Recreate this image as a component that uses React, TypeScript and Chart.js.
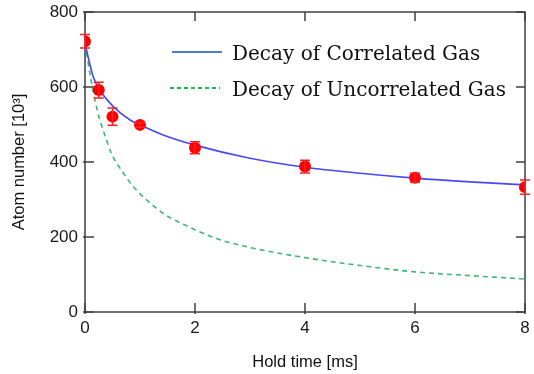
import React, { useEffect, useRef } from "react";
import { Chart, registerables } from "chart.js";

Chart.register(...registerables);

// Measured data
const holdTime = [0, 0.25, 0.5, 1, 2, 4, 6, 8];
const atomNumber = [722, 592, 521, 499, 438, 388, 358, 333];
const atomError = [18, 21, 23, 6, 16, 17, 12, 19];

// Correlated decay curve
const correlatedTime = [0, 0.15, 0.27, 0.52, 0.82, 1, 1.42, 2, 3, 4, 5, 6, 7, 8];
const correlatedAtoms = [716, 627, 592, 547, 512, 499, 472, 445, 410, 386, 370, 357, 347, 339];

// Uncorrelated decay curve
const uncorrelatedTime = [0, 0.12, 0.18, 0.27, 0.36, 0.48, 0.7, 0.88, 1.12, 1.42, 1.79, 2.39, 3, 4, 5, 6, 7, 8];
const uncorrelatedAtoms = [716, 610, 566, 512, 472, 423, 370, 334, 299, 263, 234, 196, 172, 145, 124, 107, 97, 88];

const xTicks = [0, 2, 4, 6, 8];
const yTicks = [0, 200, 400, 600, 800];

const legendLabels = ["Decay of Correlated Gas", "Decay of Uncorrelated Gas"];

const framePlugin = {
  id: "frame",
  beforeDatasetsDraw(chart: any) {
    const { ctx, chartArea } = chart;
    const { left, right, top, bottom } = chartArea;
    const xs = chart.scales.x;
    const ys = chart.scales.y;
    ctx.save();
    ctx.strokeStyle = "#404040";
    ctx.lineWidth = 1.5;
    ctx.strokeRect(left, top, right - left, bottom - top);
    const tl = 9;
    ctx.beginPath();
    xTicks.forEach((v) => {
      const px = xs.getPixelForValue(v);
      ctx.moveTo(px, bottom + 2);
      ctx.lineTo(px, bottom - tl);
      ctx.moveTo(px, top);
      ctx.lineTo(px, top + tl);
    });
    yTicks.forEach((v) => {
      const py = ys.getPixelForValue(v);
      ctx.moveTo(left - 2, py);
      ctx.lineTo(left + tl, py);
      ctx.moveTo(right, py);
      ctx.lineTo(right - tl, py);
    });
    ctx.stroke();
    ctx.restore();
  },
};

const errorBarPlugin = {
  id: "errorBars",
  afterDatasetsDraw(chart: any) {
    const { ctx } = chart;
    const xs = chart.scales.x;
    const ys = chart.scales.y;
    ctx.save();
    ctx.strokeStyle = "#ff2020";
    ctx.lineWidth = 1.5;
    holdTime.forEach((t, i) => {
      const px = xs.getPixelForValue(t);
      const pTop = ys.getPixelForValue(atomNumber[i] + atomError[i]);
      const pBot = ys.getPixelForValue(atomNumber[i] - atomError[i]);
      ctx.beginPath();
      ctx.moveTo(px, pTop);
      ctx.lineTo(px, pBot);
      ctx.moveTo(px - 5, pTop);
      ctx.lineTo(px + 5, pTop);
      ctx.moveTo(px - 5, pBot);
      ctx.lineTo(px + 5, pBot);
      ctx.stroke();
    });
    ctx.restore();
  },
};

const legendPlugin = {
  id: "customLegend",
  afterDraw(chart: any) {
    const { ctx } = chart;
    ctx.save();
    ctx.font = '20px "DejaVu Serif"';
    ctx.fillStyle = "#111111";
    ctx.textBaseline = "alphabetic";
    ctx.textAlign = "left";
    // row 1
    ctx.strokeStyle = "#4a7ecf";
    ctx.lineWidth = 1.8;
    ctx.setLineDash([]);
    ctx.beginPath();
    ctx.moveTo(172, 52);
    ctx.lineTo(222, 52);
    ctx.stroke();
    ctx.fillText(legendLabels[0], 232, 60);
    // row 2
    ctx.strokeStyle = "#1fbf4f";
    ctx.setLineDash([4, 3]);
    ctx.beginPath();
    ctx.moveTo(170, 88);
    ctx.lineTo(220, 88);
    ctx.stroke();
    ctx.setLineDash([]);
    ctx.fillText(legendLabels[1], 232, 96);
    ctx.restore();
  },
};

export default function App() {
  const canvasRef = useRef<HTMLCanvasElement | null>(null);

  useEffect(() => {
    document.body.style.margin = "0";
    const canvas = canvasRef.current;
    if (!canvas) return;
    const tickFont = { family: '"Liberation Sans", Arial, sans-serif', size: 17 };
    const titleFont = { family: '"Liberation Sans", Arial, sans-serif', size: 16.5 };
    const chart = new Chart(canvas, {
      type: "line",
      data: {
        datasets: [
          {
            label: "Measured",
            data: holdTime.map((t, i) => ({ x: t, y: atomNumber[i] })),
            showLine: false,
            pointRadius: 6,
            pointBackgroundColor: "#ff0000",
            pointBorderColor: "#ff0000",
            pointBorderWidth: 0,
            order: 0,
          },
          {
            label: legendLabels[0],
            data: correlatedTime.map((t, i) => ({ x: t, y: correlatedAtoms[i] })),
            borderColor: "#4848f8",
            borderWidth: 1.6,
            pointRadius: 0,
            cubicInterpolationMode: "monotone",
            fill: false,
            order: 1,
          },
          {
            label: legendLabels[1],
            data: uncorrelatedTime.map((t, i) => ({ x: t, y: uncorrelatedAtoms[i] })),
            borderColor: "#3cb878",
            borderWidth: 1.6,
            borderDash: [5, 4],
            pointRadius: 0,
            cubicInterpolationMode: "monotone",
            fill: false,
            order: 2,
          },
        ],
      },
      options: {
        animation: false,
        responsive: false,
        devicePixelRatio: 1,
        layout: { padding: { top: 12, right: 9, left: 0, bottom: 0 } },
        plugins: {
          legend: { display: false },
          tooltip: { enabled: false },
        },
        scales: {
          x: {
            type: "linear",
            min: 0,
            max: 8,
            afterFit: (scale: any) => {
              scale.height = 62;
              scale.paddingLeft = 0;
              scale.paddingRight = 0;
            },
            afterBuildTicks: (scale: any) => {
              scale.ticks = xTicks.map((v) => ({ value: v }));
            },
            grid: { display: false, drawTicks: false },
            border: { display: false },
            ticks: {
              padding: 6,
              color: "#1a1a1a",
              font: tickFont,
              maxRotation: 0,
            },
            title: {
              display: true,
              text: "Hold time [ms]",
              color: "#111111",
              font: titleFont,
              padding: { top: 0, bottom: 2 },
            },
          },
          y: {
            type: "linear",
            min: 0,
            max: 800,
            afterFit: (scale: any) => {
              scale.width = 85;
              scale.paddingTop = 0;
              scale.paddingBottom = 0;
            },
            afterBuildTicks: (scale: any) => {
              scale.ticks = yTicks.map((v) => ({ value: v }));
            },
            grid: { display: false, drawTicks: false },
            border: { display: false },
            ticks: {
              padding: 7,
              color: "#1a1a1a",
              font: tickFont,
            },
            title: {
              display: true,
              text: "Atom number [10³]",
              color: "#111111",
              font: titleFont,
              padding: { top: 10, bottom: 0 },
            },
          },
        },
      },
      plugins: [framePlugin, errorBarPlugin, legendPlugin],
    });
    return () => chart.destroy();
  }, []);

  return (
    <div style={{ width: 534, height: 374 }}>
      <canvas ref={canvasRef} width={534} height={374} style={{ display: "block", width: 534, height: 374 }} />
    </div>
  );
}
